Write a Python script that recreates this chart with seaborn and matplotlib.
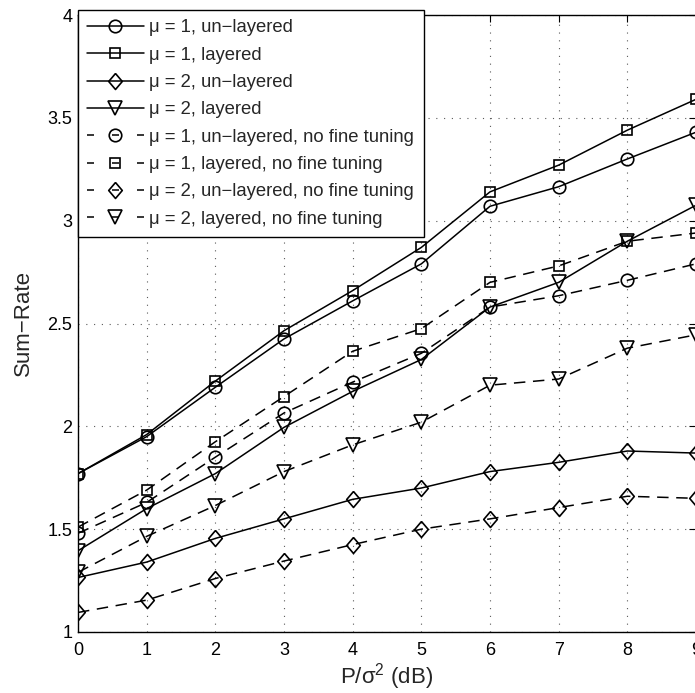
import numpy as np
import pandas as pd
import seaborn as sns
import matplotlib.pyplot as plt

# datos
snr_db = [0, 1, 2, 3, 4, 5, 6, 7, 8, 9]

mu1_unlayered = [1.77, 1.95, 2.19, 2.425, 2.61, 2.79, 3.07, 3.165, 3.30, 3.43]
mu1_layered = [1.77, 1.96, 2.22, 2.465, 2.66, 2.87, 3.14, 3.27, 3.44, 3.59]
mu2_unlayered = [1.265, 1.34, 1.455, 1.55, 1.645, 1.70, 1.78, 1.825, 1.88, 1.87]
mu2_layered = [1.395, 1.60, 1.77, 1.995, 2.17, 2.325, 2.58, 2.70, 2.90, 3.075]
mu1_unlayered_nft = [1.48, 1.63, 1.85, 2.065, 2.215, 2.355, 2.58, 2.635, 2.71, 2.79]
mu1_layered_nft = [1.51, 1.69, 1.925, 2.145, 2.365, 2.475, 2.70, 2.78, 2.90, 2.94]
mu2_unlayered_nft = [1.095, 1.155, 1.26, 1.345, 1.425, 1.50, 1.55, 1.605, 1.66, 1.65]
mu2_layered_nft = [1.29, 1.465, 1.615, 1.78, 1.91, 2.02, 2.20, 2.23, 2.38, 2.445]

labels = [
    'μ = 1, un−layered',
    'μ = 1, layered',
    'μ = 2, un−layered',
    'μ = 2, layered',
    'μ = 1, un−layered, no fine tuning',
    'μ = 1, layered, no fine tuning',
    'μ = 2, un−layered, no fine tuning',
    'μ = 2, layered, no fine tuning',
]
series = [mu1_unlayered, mu1_layered, mu2_unlayered, mu2_layered,
          mu1_unlayered_nft, mu1_layered_nft, mu2_unlayered_nft, mu2_layered_nft]

# rombo estilo matlab (mas alto que ancho)
diamond = [(0, 1), (0.85, 0), (0, -1), (-0.85, 0), (0, 1)]
markers = ['o', 's', diamond, 'v', 'o', 's', diamond, 'v']
msizes = [9, 7.5, 11.5, 9.5, 9, 7.5, 11.5, 9.5]
solid = [True, True, True, True, False, False, False, False]

sns.set_style('white')
plt.rcParams['font.family'] = ['Liberation Sans', 'DejaVu Sans']
plt.rcParams['mathtext.fontset'] = 'custom'
plt.rcParams['mathtext.rm'] = 'Liberation Sans'
plt.rcParams['mathtext.default'] = 'regular'

fig = plt.figure(figsize=(6.95, 6.93), dpi=100)
ax = fig.add_axes([78 / 695, 61 / 693, 618 / 695, 617 / 693])

lw = 1.1
for vals, lab, mk, ms, s in zip(series, labels, markers, msizes, solid):
    ls = '-' if s else (0, (7.5, 5))
    sns.lineplot(x=snr_db, y=vals, ax=ax, color='k', marker=mk, markersize=ms,
                 markerfacecolor='none', markeredgecolor='k', markeredgewidth=1.2,
                 linewidth=lw, linestyle=ls, label=lab)

ax.set_xlim(0, 9)
ax.set_ylim(1, 4)
ax.set_xticks(range(0, 10))
ax.set_yticks([1, 1.5, 2, 2.5, 3, 3.5, 4])
ax.set_yticklabels(['1', '1.5', '2', '2.5', '3', '3.5', '4'])
ax.tick_params(direction='in', length=5, width=0.8, top=True, right=True,
               labelsize=13, colors='k', pad=4)
ax.tick_params(axis='x', pad=7)
ax.grid(True, color='0.35', linestyle=(0, (1, 6)), linewidth=0.8)
for sp in ax.spines.values():
    sp.set_color('k')
    sp.set_linewidth(1.0)

ax.set_xlabel('P/σ$^2$ (dB)', fontsize=16, labelpad=2)
ax.set_ylabel('Sum−Rate', fontsize=16, labelpad=10)

leg = ax.legend(loc='upper left', bbox_to_anchor=(0, 1.008), borderaxespad=0,
                fontsize=13.3, frameon=True, fancybox=False, edgecolor='k',
                framealpha=1, handlelength=3.05, handletextpad=0.32,
                labelspacing=0.56, borderpad=0.5)
leg.get_frame().set_linewidth(1.0)
# en la leyenda las lineas discontinuas se ven como "- o -"
for h, s in zip(leg.get_lines(), solid):
    if not s:
        h.set_linestyle((0, (7 / 1.389 / lw, 18 / 1.389 / lw)))

fig.savefig('out.png', dpi=100)
